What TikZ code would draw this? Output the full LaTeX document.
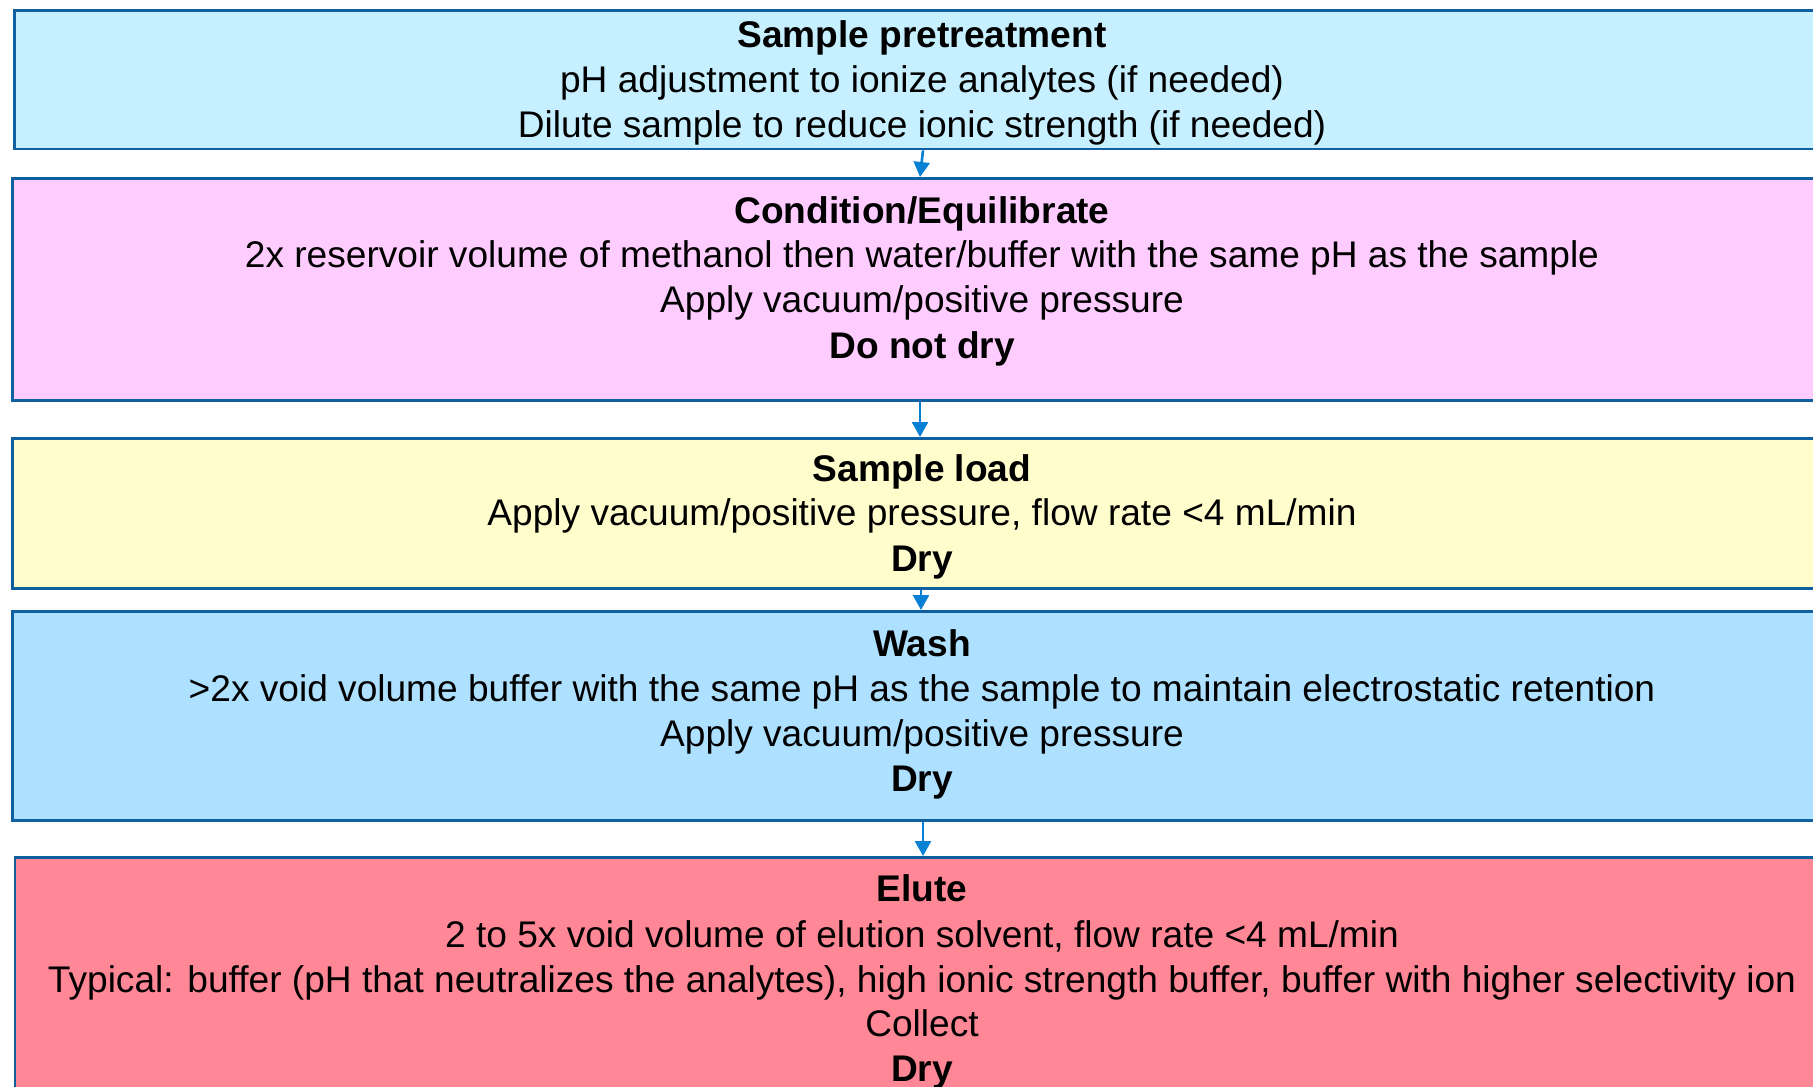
\documentclass[tikz,border=0pt]{standalone}
\usepackage{fontspec}
\setmainfont{Liberation Sans}
\usetikzlibrary{arrows.meta}
\definecolor{edge}{RGB}{16,96,160}
\definecolor{arrowblue}{RGB}{8,128,212}
\definecolor{fillpre}{RGB}{198,240,255}
\definecolor{fillcond}{RGB}{255,204,255}
\definecolor{fillload}{RGB}{255,253,204}
\definecolor{fillwash}{RGB}{174,224,255}
\definecolor{fillelute}{RGB}{255,135,150}
\tikzset{
  stepbox/.style={draw=edge, line width=1.45pt, rectangle, anchor=north west, inner sep=0pt, minimum width=918.5pt},
  txt/.style={anchor=base, inner sep=0pt, font=\fontsize{18.55}{22}\selectfont},
  ttl/.style={txt, font=\fontsize{18.55}{22}\selectfont\bfseries},
  flow/.style={draw=arrowblue, line width=1.3pt, -{Triangle[width=8pt,length=7.5pt]}}
}
\begin{document}
\begin{tikzpicture}[x=0.5pt,y=-0.5pt]
\clip (0,0) rectangle (1813,1086);
\fill[white] (0,0) rectangle (1813,1086);

% process steps
\node[stepbox, fill=fillpre,   minimum height=69pt]  (pre)   at (13,9.5)  {};
\node[stepbox, fill=fillcond,  minimum height=111pt] (cond)  at (11,177)  {};
\node[stepbox, fill=fillload,  minimum height=75pt]  (load)  at (11,437)  {};
\node[stepbox, fill=fillwash,  minimum height=104.5pt] (wash) at (11,610) {};
\node[stepbox, fill=fillelute, minimum height=130pt] (elute) at (13.5,856) {};

% step texts
\node[ttl] (pre-1) at (922,48)  {Sample pretreatment};
\node[txt] (pre-2) at (922,93)  {pH adjustment to ionize analytes (if needed)};
\node[txt] (pre-3) at (922,137) {Dilute sample to reduce ionic strength (if needed)};

\node[ttl] (cond-1) at (922,223) {Condition/Equilibrate};
\node[txt] (cond-2) at (922,267) {2x reservoir volume of methanol then water/buffer with the same pH as the sample};
\node[txt] (cond-3) at (922,312) {Apply vacuum/positive pressure};
\node[ttl] (cond-4) at (922,358) {Do not dry};

\node[ttl] (load-1) at (922,481) {Sample load};
\node[txt] (load-2) at (922,525) {Apply vacuum/positive pressure, flow rate <4 mL/min};
\node[ttl] (load-3) at (922,571) {Dry};

\node[ttl] (wash-1) at (922,656) {Wash};
\node[txt] (wash-2) at (922,701) {>2x void volume buffer with the same pH as the sample to maintain electrostatic retention};
\node[txt] (wash-3) at (922,746) {Apply vacuum/positive pressure};
\node[ttl] (wash-4) at (922,791) {Dry};

\node[ttl] (elute-1) at (922,901)  {Elute};
\node[txt] (elute-2) at (922,947)  {2 to 5x void volume of elution solvent, flow rate <4 mL/min};
\node[txt] (elute-3) at (922,992)  {Typical: buffer (pH that neutralizes the analytes), high ionic strength buffer, buffer with higher selectivity ion};
\node[txt] (elute-4) at (922,1036) {Collect};
\node[ttl] (elute-5) at (922,1081) {Dry};

% connectors
\coordinate (a1) at (923,0);
\coordinate (a2) at (920,0);
\coordinate (a3) at (921,0);
\coordinate (a4) at (923,0);
\draw[flow] (pre.south -| a1) -- (cond.north -| a2);
\draw[flow] (cond.south -| a2) -- (load.north -| a2);
\draw[flow] (load.south -| a3) -- (wash.north -| a3);
\draw[flow] (wash.south -| a4) -- (elute.north -| a4);
\end{tikzpicture}
\end{document}
